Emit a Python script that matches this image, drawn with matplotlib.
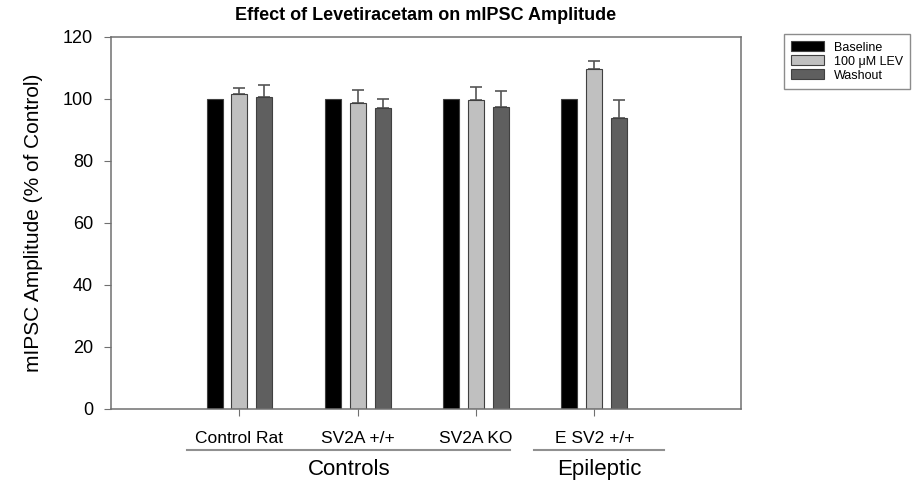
import numpy as np
import matplotlib.pyplot as plt
from matplotlib.patches import Patch

plt.rcParams["font.family"] = ["Liberation Sans", "DejaVu Sans"]

groups = ["Control Rat", "SV2A +/+", "SV2A KO", "E SV2 +/+"]
series = ["Baseline", "100 \u03bcM LEV", "Washout"]
baseline = [100.0, 100.0, 100.0, 100.0]
baseline_err = [0.0, 0.0, 0.0, 0.0]
lev = [101.6, 98.8, 99.7, 109.6]
lev_err = [1.8, 4.1, 4.2, 2.7]
washout = [100.6, 97.0, 97.4, 94.0]
washout_err = [4.0, 3.0, 5.1, 5.7]
colors = ["#000000", "#c0c0c0", "#5f5f5f"]

values = [baseline, lev, washout]
errors = [baseline_err, lev_err, washout_err]

fig = plt.figure(figsize=(9.22, 4.84), dpi=100)
ax = fig.add_axes([0.1204, 0.155, 0.6833, 0.7686])

x = np.arange(len(groups))
step = 0.21
width = 0.135
for i, (vals, errs, col) in enumerate(zip(values, errors, colors)):
    pos = x + (i - 1) * step
    ax.bar(pos, vals, width, color=col, edgecolor="#404040", linewidth=0.8,
           label=series[i], zorder=2)
    has_err = [e > 0 for e in errs]
    if any(has_err):
        ax.errorbar(pos[has_err], np.array(vals)[has_err],
                    yerr=[np.zeros(sum(has_err)), np.array(errs)[has_err]],
                    fmt="none", ecolor="#555555", elinewidth=1.2, capsize=4,
                    capthick=1.2, zorder=1)

ax.set_xlim(-1.085, 4.24)
ax.set_ylim(0, 120)
ax.set_yticks(range(0, 121, 20))
ax.set_xticks(x)
ax.set_xticklabels(groups, fontsize=12.5)
ax.tick_params(axis="x", length=5, pad=11, color="#707070")
ax.tick_params(axis="y", length=5, pad=8, labelsize=13, color="#707070")
for s in ax.spines.values():
    s.set_color("#707070")
    s.set_linewidth(1.1)

ax.set_ylabel("mIPSC Amplitude (% of Control)", fontsize=15, labelpad=14)
ax.set_title("Effect of Levetiracetam on mIPSC Amplitude", fontsize=13,
             fontweight="bold", pad=12)

trans = ax.get_xaxis_transform()
brackets = [("Controls", -0.44, 2.29), ("Epileptic", 2.49, 3.59)]
for name, x0, x1 in brackets:
    ax.plot([x0, x1], [-0.11, -0.11], transform=trans, color="#909090",
            linewidth=1.5, clip_on=False)
    ax.text((x0 + x1) / 2, -0.135, name, transform=trans, ha="center",
            va="top", fontsize=16)

handles = [Patch(facecolor=c, edgecolor="#404040", linewidth=0.8) for c in colors]
fig.legend(handles, series, loc="upper left", bbox_to_anchor=(0.850, 0.93),
           borderaxespad=0, fontsize=9, frameon=True, fancybox=False,
           edgecolor="#707070", handlelength=2.6, handleheight=0.8,
           borderpad=0.6, labelspacing=0.15)

fig.savefig("out.png", dpi=100)
